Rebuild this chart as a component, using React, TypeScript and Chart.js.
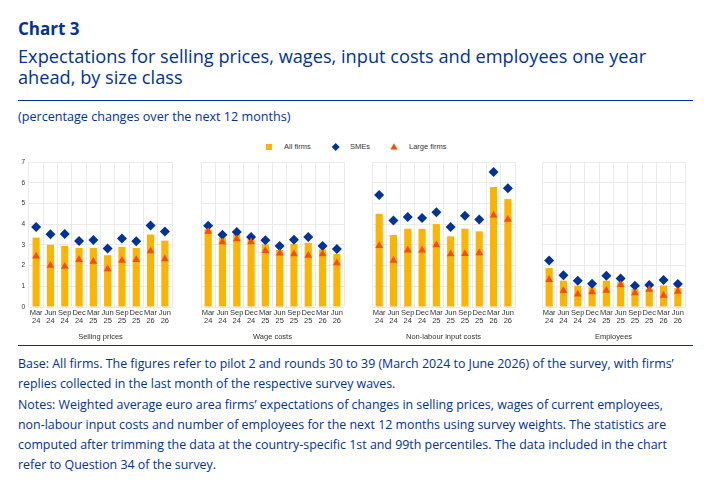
import React, { useEffect, useRef } from 'react';
import { Chart, registerables } from 'chart.js';

Chart.register(...registerables);

const categories: string[][] = [
  ['Mar', '24'], ['Jun', '24'], ['Sep', '24'], ['Dec', '24'],
  ['Mar', '25'], ['Jun', '25'], ['Sep', '25'], ['Dec', '25'],
  ['Mar', '26'], ['Jun', '26'],
];

const yTicks = [0, 1, 2, 3, 4, 5, 6, 7];

const panelTitles = ['Selling prices', 'Wage costs', 'Non-labour input costs', 'Employees'];

const sellingAll = [3.35, 3.0, 2.95, 2.85, 2.85, 2.5, 2.9, 2.85, 3.5, 3.2];
const sellingSME = [3.86, 3.51, 3.52, 3.19, 3.23, 2.83, 3.31, 3.17, 3.94, 3.65];
const sellingLarge = [2.45, 2.0, 1.96, 2.28, 2.2, 1.83, 2.24, 2.28, 2.7, 2.32];

const wageAll = [3.75, 3.35, 3.52, 3.35, 3.02, 2.75, 3.04, 3.1, 2.78, 2.56];
const wageSME = [3.92, 3.49, 3.62, 3.38, 3.22, 2.94, 3.25, 3.38, 2.94, 2.8];
const wageLarge = [3.65, 3.14, 3.28, 3.14, 2.72, 2.6, 2.56, 2.49, 2.56, 2.12];

const inputAll = [4.5, 3.48, 3.78, 3.77, 4.0, 3.41, 3.78, 3.65, 5.79, 5.21];
const inputSME = [5.41, 4.17, 4.34, 4.3, 4.57, 3.86, 4.41, 4.22, 6.52, 5.73];
const inputLarge = [2.96, 2.24, 2.74, 2.74, 2.99, 2.56, 2.57, 2.61, 4.43, 4.23];

const empAll = [1.88, 1.27, 1.03, 0.95, 1.27, 1.19, 0.87, 0.87, 1.04, 0.92];
const empSME = [2.24, 1.53, 1.27, 1.12, 1.51, 1.38, 1.03, 1.06, 1.3, 1.11];
const empLarge = [1.32, 0.79, 0.61, 0.72, 0.8, 1.08, 0.68, 0.84, 0.55, 0.75];

const legendLabels = ['All firms', 'SMEs', 'Large firms'];

const BLUE = '#003299';
const YELLOW = '#ffb400';
const ORANGE = '#ff4b00';
const GRID = '#ebebeb';
const AXIS_TEXT = '#333333';
const CHART_FONT = '"Liberation Sans", Arial, sans-serif';
const TEXT_FONT = '"Open Sans", "Noto Sans", sans-serif';

type PanelProps = {
  all: number[];
  sme: number[];
  large: number[];
  title: string;
  left: number;
  showY: boolean;
};

function Panel({ all, sme, large, title, left, showY }: PanelProps) {
  const ref = useRef<HTMLCanvasElement>(null);
  const padL = showY ? 0 : 6;
  const yW = showY ? 20 : 0;
  const padR = 4;
  const width = padL + yW + 144 + padR;
  const height = 187;

  useEffect(() => {
    if (!ref.current) return;
    const chart = new Chart(ref.current, {
      type: 'bar',
      data: {
        labels: categories,
        datasets: [
          {
            type: 'bar',
            label: legendLabels[0],
            data: all,
            backgroundColor: YELLOW,
            borderWidth: 0,
            categoryPercentage: 1,
            barPercentage: 0.5,
            order: 3,
          },
          {
            type: 'line',
            label: legendLabels[1],
            data: sme,
            showLine: false,
            pointStyle: 'rectRot',
            pointRadius: 5,
            pointBackgroundColor: BLUE,
            pointBorderColor: BLUE,
            pointBorderWidth: 0,
            backgroundColor: BLUE,
            borderColor: BLUE,
            order: 2,
          },
          {
            type: 'line',
            label: legendLabels[2],
            data: large,
            showLine: false,
            pointStyle: 'triangle',
            pointRadius: 4.5,
            pointBackgroundColor: ORANGE,
            pointBorderColor: ORANGE,
            pointBorderWidth: 0,
            backgroundColor: ORANGE,
            borderColor: ORANGE,
            order: 1,
          },
        ],
      } as any,
      options: {
        animation: false,
        responsive: false,
        maintainAspectRatio: false,
        layout: { padding: { top: 8, right: padR, left: padL, bottom: 0 } },
        plugins: {
          legend: { display: false },
          tooltip: { enabled: false },
        },
        scales: {
          x: {
            grid: { color: GRID, drawTicks: false, offset: true },
            border: { display: false },
            ticks: {
              color: AXIS_TEXT,
              font: { family: CHART_FONT, size: 7.5, lineHeight: 1.05 },
              padding: 2,
              maxRotation: 0,
              autoSkip: false,
            },
            title: {
              display: true,
              text: title,
              color: AXIS_TEXT,
              font: { family: CHART_FONT, size: 7.5, lineHeight: 1.1 },
              padding: { top: 1, bottom: 0 },
            },
            afterFit: (s: any) => {
              s.height = 34;
            },
          },
          y: {
            min: yTicks[0],
            max: yTicks[yTicks.length - 1],
            grid: { color: GRID, drawTicks: false },
            border: { display: false },
            ticks: {
              display: showY,
              stepSize: 1,
              color: AXIS_TEXT,
              font: { family: CHART_FONT, size: 6.5 },
              padding: 4,
            },
            afterFit: (s: any) => {
              s.width = yW;
            },
          },
        },
      } as any,
    });
    return () => chart.destroy();
  }, []);

  return (
    <canvas
      ref={ref}
      width={width}
      height={height}
      style={{ position: 'absolute', left, top: 154, width, height }}
    />
  );
}

const footLines = [
  'Base: All firms. The figures refer to pilot 2 and rounds 30 to 39 (March 2024 to June 2026) of the survey, with firms’',
  'replies collected in the last month of the respective survey waves.',
  'Notes: Weighted average euro area firms’ expectations of changes in selling prices, wages of current employees,',
  'non-labour input costs and number of employees for the next 12 months using survey weights. The statistics are',
  'computed after trimming the data at the country-specific 1st and 99th percentiles. The data included in the chart',
  'refer to Question 34 of the survey.',
];

export default function App() {
  const legendText: React.CSSProperties = {
    position: 'absolute',
    top: 142,
    fontFamily: CHART_FONT,
    fontSize: 7.5,
    lineHeight: '10px',
    color: AXIS_TEXT,
    whiteSpace: 'nowrap',
  };
  return (
    <div
      style={{
        position: 'absolute',
        left: 0,
        top: 0,
        width: 722,
        height: 504,
        background: '#ffffff',
        overflow: 'hidden',
      }}
    >
      <div
        style={{
          position: 'absolute',
          left: 18,
          top: 18,
          fontFamily: TEXT_FONT,
          fontWeight: 700,
          fontSize: 17,
          lineHeight: '21px',
          color: BLUE,
          whiteSpace: 'nowrap',
        }}
      >
        Chart 3
      </div>
      <div
        style={{
          position: 'absolute',
          left: 18,
          top: 45.7,
          fontFamily: TEXT_FONT,
          fontSize: 18.2,
          lineHeight: '21px',
          color: BLUE,
          whiteSpace: 'nowrap',
        }}
      >
        <div>Expectations for selling prices, wages, input costs and employees one year</div>
        <div>ahead, by size class</div>
      </div>
      <div style={{ position: 'absolute', left: 18, top: 100, width: 675, height: 1, background: BLUE }} />
      <div
        style={{
          position: 'absolute',
          left: 18,
          top: 108.5,
          fontFamily: TEXT_FONT,
          fontSize: 12.6,
          lineHeight: '16px',
          color: BLUE,
          whiteSpace: 'nowrap',
        }}
      >
        (percentage changes over the next 12 months)
      </div>

      {/* legend */}
      <svg style={{ position: 'absolute', left: 0, top: 140 }} width={722} height={14}>
        <rect x={266} y={4} width={6} height={6} fill={YELLOW} />
        <polygon points="335.7,3 339.7,7 335.7,11 331.7,7" fill={BLUE} />
        <polygon points="394,3.2 397.6,9.6 390.4,9.6" fill={ORANGE} />
      </svg>
      <div style={{ ...legendText, left: 284 }}>{legendLabels[0]}</div>
      <div style={{ ...legendText, left: 350 }}>{legendLabels[1]}</div>
      <div style={{ ...legendText, left: 409 }}>{legendLabels[2]}</div>

      <Panel all={sellingAll} sme={sellingSME} large={sellingLarge} title={panelTitles[0]} left={9} showY={true} />
      <Panel all={wageAll} sme={wageSME} large={wageLarge} title={panelTitles[1]} left={195} showY={false} />
      <Panel all={inputAll} sme={inputSME} large={inputLarge} title={panelTitles[2]} left={366} showY={false} />
      <Panel all={empAll} sme={empSME} large={empLarge} title={panelTitles[3]} left={536} showY={false} />

      <div style={{ position: 'absolute', left: 18, top: 345, width: 675, height: 1, background: BLUE }} />
      <div
        style={{
          position: 'absolute',
          left: 18,
          top: 354,
          fontFamily: TEXT_FONT,
          fontSize: 12.4,
          lineHeight: '20.3px',
          color: BLUE,
          whiteSpace: 'nowrap',
        }}
      >
        {footLines.map((l, i) => (
          <div key={i}>{l}</div>
        ))}
      </div>
    </div>
  );
}
